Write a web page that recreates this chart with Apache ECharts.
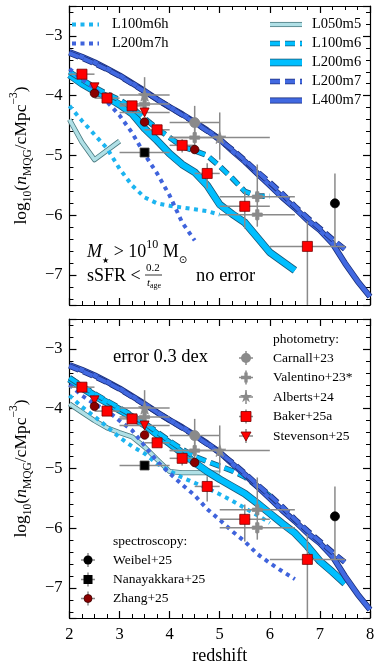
<!DOCTYPE html>
<html>
<head>
<meta charset="utf-8">
<script src="https://cdn.jsdelivr.net/npm/echarts@6/dist/echarts.min.js"></script>
<style>
html, body { margin: 0; padding: 0; background: #fff; }
#chart { width: 381px; height: 671px; }
</style>
</head>
<body>
<div id="chart"></div>
<script>
// redshift steps the simulation curves are read at
var zSteps = [2, 2.25, 2.5, 2.75, 3, 3.25, 3.5, 3.75, 4, 4.25, 4.5, 4.75, 5, 5.25, 5.5, 5.75, 6, 6.25, 6.5, 6.75, 7, 7.25, 7.5, 7.75, 8];

// top panel - no error
var L400m7 = [-3.27, -3.35, -3.44, -3.55, -3.66, -3.79, -3.92, -4.06, -4.19, -4.31, -4.44, -4.58, -4.73, -4.92, -5.1, -5.3, -5.5, -5.7, -5.88, -6.08, -6.25, -6.47, -6.8, -7.1, -7.36];
var L200m7 = [-3.29, -3.37, -3.46, -3.56, -3.67, -3.8, -3.93, -4.06, -4.19, -4.32, -4.45, -4.59, -4.74, -4.9, -5.08, -5.27, -5.45, -5.64, -5.85, -6.04, -6.22, -6.4, -6.57];
var L200m6Top = [-3.65, -3.8, -3.92, -4.02, -4.15, -4.3, -4.55, -4.75, -4.97, -5.15, -5.28, -5.5, -5.82, -5.98, -6.12, -6.37, -6.62, -6.77, -6.92];
var L100m6Top = [-3.6, -3.73, -3.86, -3.97, -4.07, -4.2, -4.38, -4.55, -4.7, -4.85, -4.92, -5.0, -5.18, -5.38, -5.6, -5.68, -5.68];
var L100m6hTop = [-4.17, -4.42, -4.65, -4.88, -5.22, -5.5, -5.7, -5.8, -5.84, -5.87, -5.9, -5.93, -5.99];
var L200m7hTop = [-3.55, -3.72, -3.88, -4.1, -4.33, -4.62, -4.98, -5.3, -5.67, -6.12, -6.42];
var L050m5TopZ = [2, 2.25, 2.5, 3];
var L050m5Top = [-4.4, -4.78, -5.07, -4.76];

// bottom panel - error 0.3 dex
var L200m6Err = [-3.5, -3.65, -3.78, -3.9, -4.02, -4.14, -4.27, -4.43, -4.58, -4.74, -4.9, -5.05, -5.18, -5.3, -5.42, -5.58, -5.75, -5.92, -6.08, -6.3, -6.55, -6.73, -6.92];
var L100m6Err = [-3.48, -3.62, -3.75, -3.87, -3.99, -4.11, -4.24, -4.39, -4.54, -4.68, -4.8, -4.88, -4.96, -5.04, -5.14, -5.3, -5.46];
var L100m6hErr = [-3.78, -3.97, -4.13, -4.3, -4.48, -4.63, -4.75, -4.92, -5.04, -5.15, -5.24, -5.33, -5.43, -5.54, -5.66, -5.78, -5.91];
var L200m7hErr = [-3.6, -3.78, -3.92, -4.03, -4.2, -4.36, -4.62, -4.88, -5.08, -5.27, -5.45, -5.68, -5.86, -6.05, -6.22, -6.43, -6.58, -6.72, -6.85];
var L050m5Err = [-3.92, -4.06, -4.2, -4.32, -4.4, -4.47, -4.64, -4.85, -5.05, -5.07, -5.07, -5.07, -5.08];

// observations: z, log n, half width in z, error up, error down
var carnallZ = [4.5], carnallN = [-4.45], carnallDz = [0.5], carnallUp = [0.28], carnallDn = [0.25];
var valentinoZ = [3.5, 4.5, 5.75, 5.75], valentinoN = [-4.14, -4.70, -5.69, -5.99];
var valentinoDz = [0.5, 0.5, 0.75, 0.75], valentinoUp = [0.06, 0.22, 0.54, 0.08], valentinoDn = [0.06, 0.25, 0.5, 0.1];
var albertsZ = [3.5, 5.0], albertsN = [-3.99, -4.70], albertsDz = [0.5, 1.0], albertsUp = [0.3, 0.42], albertsDn = [0.24, 0.37];
var bakerZ = [2.25, 2.75, 3.25, 3.75, 4.25, 4.75, 5.5, 6.75];
var bakerN = [-3.64, -4.04, -4.17, -4.57, -4.83, -5.30, -5.85, -6.52];
var bakerDz = [0.25, 0.25, 0.25, 0.25, 0.25, 0.25, 0.5, 0.75];
var bakerUp = [0.04, 0.05, 0.05, 0.07, 0.1, 0.17, 0.25, 0.42];
var bakerDn = [0.04, 0.05, 0.06, 0.08, 0.12, 0.25, 0.37, 1.2];
var stevensonZ = [2.5, 3.5], stevensonN = [-3.86, -4.28], stevensonDz = [0, 0.5], stevensonUp = [0.05, 0.06], stevensonDn = [0.05, 0.06];
var weibelZ = [7.3], weibelN = [-5.80], weibelDz = [0], weibelUp = [0.5], weibelDn = [0.73];
var nanaZ = [3.5], nanaN = [-4.95], nanaDz = [0.5], nanaUp = [0.06], nanaDn = [0.06];
var zhangZ = [2.5, 3.5, 4.5], zhangN = [-3.96, -4.44, -4.90], zhangDz = [0, 0, 0], zhangUp = [0.05, 0.06, 0.07], zhangDn = [0.05, 0.06, 0.07];

var FONT = "'Liberation Serif', 'DejaVu Serif', serif";
var GREY = '#8a8a8a';

var sty = {
    L050m5: { color: '#b0e0e6', edge: '#4a7a80', width: 3.5, z: 2 },
    L200m6: { color: '#00bfff', edge: '#1a5a7a', width: 6, z: 4 },
    L100m6: { color: '#00bfff', edge: '#1a5a7a', width: 4, dash: [10, 5], z: 6 },
    L400m7: { color: '#4169e1', edge: '#1c2f7a', width: 4.5, z: 8 },
    L200m7: { color: '#4169e1', edge: '#1c2f7a', width: 4, dash: [10, 5], z: 10 },
    L100m6h: { color: '#1cb4f0', width: 4, dash: [4, 4.5], z: 12 },
    L200m7h: { color: '#3f63dc', width: 4, dash: [4, 4.5], z: 13 }
};

var PLUS = 'path://M-1,-3L1,-3L1,-1L3,-1L3,1L1,1L1,3L-1,3L-1,1L-3,1L-3,-1L-1,-1Z';
var STAR = 'path://M0,-10L2.35,-3.24L9.51,-3.09L3.8,1.24L5.88,8.09L0,4L-5.88,8.09L-3.8,1.24L-9.51,-3.09L-2.35,-3.24Z';

function pairs(zs, vals) {
    return vals.map(function (v, i) { return [zs[i], v]; });
}

function simSeries(name, panel, zs, vals) {
    var st = sty[name], out = [];
    var dash = st.dash || 'solid';
    if (st.edge) {
        out.push({
            name: name + ' edge', type: 'line', xAxisIndex: panel * 2, yAxisIndex: panel * 2,
            data: pairs(zs, vals), symbol: 'none', silent: true, z: st.z, animation: false,
            lineStyle: { color: st.edge, width: st.width + 1.6, type: dash, cap: 'butt', join: 'round' }
        });
    }
    out.push({
        name: name, type: 'line', xAxisIndex: panel * 2, yAxisIndex: panel * 2,
        data: pairs(zs, vals), symbol: 'none', silent: true, z: st.z + 1, animation: false,
        lineStyle: { color: st.color, width: st.width, type: dash, cap: 'butt', join: 'round' }
    });
    return out;
}

function errRows(zs, ns, dz, up, dn) {
    return zs.map(function (z, i) { return [z, ns[i], dz[i], up[i], dn[i]]; });
}

var errData = [].concat(
    errRows(carnallZ, carnallN, carnallDz, carnallUp, carnallDn),
    errRows(valentinoZ, valentinoN, valentinoDz, valentinoUp, valentinoDn),
    errRows(albertsZ, albertsN, albertsDz, albertsUp, albertsDn),
    errRows(bakerZ, bakerN, bakerDz, bakerUp, bakerDn),
    errRows(stevensonZ, stevensonN, stevensonDz, stevensonUp, stevensonDn),
    errRows(weibelZ, weibelN, weibelDz, weibelUp, weibelDn),
    errRows(nanaZ, nanaN, nanaDz, nanaUp, nanaDn),
    errRows(zhangZ, zhangN, zhangDz, zhangUp, zhangDn)
);

function renderErr(params, api) {
    var z = api.value(0), n = api.value(1), dz = api.value(2), up = api.value(3), dn = api.value(4);
    var st = { stroke: GREY, lineWidth: 1.5 };
    var kids = [];
    if (dz > 0) {
        var a = api.coord([z - dz, n]), b = api.coord([z + dz, n]);
        kids.push({ type: 'line', shape: { x1: a[0], y1: a[1], x2: b[0], y2: b[1] }, style: st });
    }
    if (up > 0 || dn > 0) {
        var c = api.coord([z, n + up]), d = api.coord([z, n - dn]);
        kids.push({ type: 'line', shape: { x1: c[0], y1: c[1], x2: d[0], y2: d[1] }, style: st });
    }
    return { type: 'group', children: kids };
}

function markSeries(name, panel, zs, ns, symbol, size, color, border, extra) {
    var s = {
        name: name, type: 'scatter', xAxisIndex: panel * 2, yAxisIndex: panel * 2,
        data: pairs(zs, ns), symbol: symbol, symbolSize: size, z: 30, animation: false, silent: true,
        itemStyle: { color: color, borderColor: border, borderWidth: 0.8, opacity: 1 }
    };
    if (extra) { for (var k in extra) s[k] = extra[k]; }
    return s;
}

var series = [];
[0, 1].forEach(function (p) {
    var top = p === 0;
    series = series.concat(
        simSeries('L050m5', p, top ? L050m5TopZ : zSteps, top ? L050m5Top : L050m5Err),
        simSeries('L200m6', p, zSteps, top ? L200m6Top : L200m6Err),
        simSeries('L100m6', p, zSteps, top ? L100m6Top : L100m6Err),
        simSeries('L400m7', p, zSteps, L400m7),
        simSeries('L200m7', p, zSteps, L200m7),
        simSeries('L100m6h', p, zSteps, top ? L100m6hTop : L100m6hErr),
        simSeries('L200m7h', p, zSteps, top ? L200m7hTop : L200m7hErr)
    );
    series.push({
        name: 'errors', type: 'custom', xAxisIndex: p * 2, yAxisIndex: p * 2,
        data: errData, renderItem: renderErr, encode: { x: 0, y: 1 }, clip: true, z: 20, silent: true, animation: false
    });
    series.push(
        markSeries('Carnall+23', p, carnallZ, carnallN, 'circle', 10, GREY, GREY),
        markSeries('Valentino+23*', p, valentinoZ, valentinoN, PLUS, 10, GREY, GREY),
        markSeries('Alberts+24', p, albertsZ, albertsN, STAR, 12, GREY, GREY),
        markSeries('Baker+25a', p, bakerZ, bakerN, 'rect', 10, '#ff0000', '#7a0000'),
        markSeries('Stevenson+25', p, stevensonZ, stevensonN, 'triangle', 9, '#ff0000', '#7a0000', { symbolRotate: 180 }),
        markSeries('Weibel+25', p, weibelZ, weibelN, 'circle', 9, '#000', '#000'),
        markSeries('Nanayakkara+25', p, nanaZ, nanaN, 'rect', 9, '#000', '#444'),
        markSeries('Zhang+25', p, zhangZ, zhangN, 'circle', 8.5, '#8b0000', '#3a0000')
    );
});

function fmtY(v) {
    if (Math.abs(v - Math.round(v)) > 1e-6) return '';
    return (v < 0 ? '\u2212' : '') + Math.abs(Math.round(v));
}

var yName = '{t|log}{s|10}{t|(}{i|n}{s|MQG}{t|/cMpc}{p|\u22123}{t|)}';
var yRich = {
    t: { fontFamily: FONT, fontSize: 17.5, lineHeight: 26, color: '#000' },
    i: { fontFamily: FONT, fontSize: 17.5, fontStyle: 'italic', lineHeight: 26, color: '#000' },
    s: { fontFamily: FONT, fontSize: 11.5, lineHeight: 12, verticalAlign: 'bottom', color: '#000' },
    p: { fontFamily: FONT, fontSize: 11.5, lineHeight: 12, verticalAlign: 'top', color: '#000' }
};

function xAx(grid, pos, labels) {
    return {
        type: 'value', gridIndex: grid, position: pos, min: 2, max: 8, interval: 1,
        axisLine: { show: true, onZero: false, lineStyle: { color: '#000', width: 1.2 } },
        axisTick: { show: true, inside: true, length: 7, lineStyle: { color: '#000', width: 1.2 } },
        minorTick: { show: true, splitNumber: 4, length: 4, lineStyle: { color: '#000', width: 1 } },
        splitLine: { show: false },
        axisLabel: { show: labels, color: '#000', fontFamily: FONT, fontSize: 16.5, margin: 8 },
        name: labels ? 'redshift' : '', nameLocation: 'middle', nameGap: 29,
        nameTextStyle: { color: '#000', fontFamily: FONT, fontSize: 18 }
    };
}

function yAx(grid, pos, named) {
    return {
        type: 'value', gridIndex: grid, position: pos, min: -7.5, max: -2.5, splitNumber: 5,
        axisLine: { show: true, onZero: false, lineStyle: { color: '#000', width: 1.2 } },
        axisTick: { show: true, inside: true, length: 7, lineStyle: { color: '#000', width: 1.2 } },
        minorTick: { show: true, splitNumber: 5, length: 4, lineStyle: { color: '#000', width: 1 } },
        splitLine: { show: false },
        axisLabel: { show: named, formatter: fmtY, color: '#000', fontFamily: FONT, fontSize: 16.5, margin: 7 },
        name: named ? yName : '', nameLocation: 'middle', nameGap: 33, nameRotate: 90,
        nameTextStyle: { rich: yRich }
    };
}

// legend helpers (drawn as graphics, not data)
function legLine(x1, x2, y, name) {
    var st = sty[name], out = [];
    var dash = st.dash || null;
    if (st.edge) {
        out.push({ type: 'line', shape: { x1: x1, y1: y, x2: x2, y2: y }, z: 50,
            style: { stroke: st.edge, lineWidth: st.width + 1.6, lineDash: dash, lineCap: 'butt' } });
    }
    out.push({ type: 'line', shape: { x1: x1, y1: y, x2: x2, y2: y }, z: 51,
        style: { stroke: st.color, lineWidth: st.width, lineDash: dash, lineCap: 'butt' } });
    return out;
}

function txt(x, y, s, size, extra) {
    var o = { type: 'text', x: x, y: y, z: 60,
        style: { text: s, fill: '#000', fontFamily: FONT, fontSize: size, align: 'left', verticalAlign: 'middle' } };
    if (extra) { for (var k in extra) o.style[k] = extra[k]; }
    return o;
}

function cross(x, y) {
    return [
        { type: 'line', shape: { x1: x - 7, y1: y, x2: x + 7, y2: y }, z: 52, style: { stroke: GREY, lineWidth: 1.5 } },
        { type: 'line', shape: { x1: x, y1: y - 7, x2: x, y2: y + 7 }, z: 52, style: { stroke: GREY, lineWidth: 1.5 } }
    ];
}

function plusPts(cx, cy, s) {
    var a = s / 6;
    return [[-1, -3], [1, -3], [1, -1], [3, -1], [3, 1], [1, 1], [1, 3], [-1, 3], [-1, 1], [-3, 1], [-3, -1], [-1, -1]]
        .map(function (p) { return [cx + p[0] * a, cy + p[1] * a]; });
}

function starPts(cx, cy, r) {
    var pts = [];
    for (var i = 0; i < 10; i++) {
        var ang = -Math.PI / 2 + i * Math.PI / 5;
        var rr = i % 2 === 0 ? r : r * 0.38;
        pts.push([cx + rr * Math.cos(ang), cy + rr * Math.sin(ang)]);
    }
    return pts;
}

var graphics = [];
// top-left legend
graphics = graphics.concat(legLine(72, 99, 24.5, 'L100m6h'), legLine(72, 99, 43.5, 'L200m7h'));
graphics.push(txt(112, 24.5, 'L100m6h', 14.5), txt(112, 43.5, 'L200m7h', 14.5));
// top-right legend
var rightLeg = ['L050m5', 'L100m6', 'L200m6', 'L200m7', 'L400m7'];
rightLeg.forEach(function (n, i) {
    var y = 24.5 + i * 19;
    graphics = graphics.concat(legLine(270, 302, y, n));
    graphics.push(txt(312, y, n, 14.5));
});

// annotations top panel
graphics.push({
    type: 'text', x: 87, y: 252, z: 60,
    style: {
        text: '{i|M}{st|\u2605}{t| > 10}{sup|10}{t| M}{sun|\u2299}', align: 'left', verticalAlign: 'middle',
        rich: {
            i: { fontFamily: FONT, fontSize: 18, fontStyle: 'italic', lineHeight: 26, fill: '#000' },
            t: { fontFamily: FONT, fontSize: 18, lineHeight: 26, fill: '#000' },
            st: { fontFamily: 'DejaVu Sans', fontSize: 8, lineHeight: 11, verticalAlign: 'bottom', fill: '#000' },
            sun: { fontFamily: 'DejaVu Sans', fontSize: 10, lineHeight: 12, verticalAlign: 'bottom', fill: '#000' },
            sup: { fontFamily: FONT, fontSize: 12, lineHeight: 12, verticalAlign: 'top', fill: '#000' }
        }
    }
});
graphics.push(txt(87, 276, 'sSFR <', 18));
graphics.push(txt(146, 268, '0.2', 11));
graphics.push({ type: 'line', shape: { x1: 145, y1: 275, x2: 162, y2: 275 }, z: 60, style: { stroke: '#000', lineWidth: 0.8 } });
graphics.push({
    type: 'text', x: 147, y: 283, z: 60,
    style: {
        text: '{i|t}{s|age}', align: 'left', verticalAlign: 'middle',
        rich: {
            i: { fontFamily: FONT, fontSize: 11, fontStyle: 'italic', lineHeight: 13, fill: '#000' },
            s: { fontFamily: FONT, fontSize: 8, lineHeight: 8, verticalAlign: 'bottom', fill: '#000' }
        }
    }
});
graphics.push(txt(196, 276, 'no error', 18.5));

// bottom panel
graphics.push(txt(113, 357, 'error 0.3 dex', 18.5));
graphics.push(txt(273, 339.5, 'photometry:', 13.5));
var phX = 246, phY = [358, 377.5, 397, 416.5, 436];
var phNames = ['Carnall+23', 'Valentino+23*', 'Alberts+24', 'Baker+25a', 'Stevenson+25'];
phNames.forEach(function (n, i) {
    graphics = graphics.concat(cross(phX, phY[i]));
    graphics.push(txt(273, phY[i], n, 13.5));
});
graphics.push({ type: 'circle', shape: { cx: phX, cy: phY[0], r: 5 }, z: 53, style: { fill: GREY } });
graphics.push({ type: 'polygon', shape: { points: plusPts(phX, phY[1], 10) }, z: 53, style: { fill: GREY } });
graphics.push({ type: 'polygon', shape: { points: starPts(phX, phY[2], 6.5) }, z: 53, style: { fill: GREY } });
graphics.push({ type: 'rect', shape: { x: phX - 5, y: phY[3] - 5, width: 10, height: 10 }, z: 53, style: { fill: '#ff0000', stroke: '#7a0000', lineWidth: 0.8 } });
graphics.push({ type: 'polygon', shape: { points: [[phX - 5, phY[4] - 4], [phX + 5, phY[4] - 4], [phX, phY[4] + 5]] }, z: 53, style: { fill: '#ff0000', stroke: '#7a0000', lineWidth: 0.8 } });

graphics.push(txt(113, 541, 'spectroscopy:', 13.5));
var spX = 88, spY = [560, 579.5, 598.5];
var spNames = ['Weibel+25', 'Nanayakkara+25', 'Zhang+25'];
spNames.forEach(function (n, i) {
    graphics = graphics.concat(cross(spX, spY[i]));
    graphics.push(txt(113, spY[i], n, 13.5));
});
graphics.push({ type: 'circle', shape: { cx: spX, cy: spY[0], r: 4.5 }, z: 53, style: { fill: '#000' } });
graphics.push({ type: 'rect', shape: { x: spX - 4.5, y: spY[1] - 4.5, width: 9, height: 9 }, z: 53, style: { fill: '#000' } });
graphics.push({ type: 'circle', shape: { cx: spX, cy: spY[2], r: 4 }, z: 53, style: { fill: '#8b0000', stroke: '#3a0000', lineWidth: 0.8 } });

var chart = echarts.init(document.getElementById('chart'));
chart.setOption({
    animation: false,
    backgroundColor: '#fff',
    grid: [
        { left: 62, top: 6, width: 308, height: 299 },
        { left: 62, top: 319, width: 308, height: 299 }
    ],
    xAxis: [xAx(0, 'bottom', false), xAx(0, 'top', false), xAx(1, 'bottom', true), xAx(1, 'top', false)],
    yAxis: [yAx(0, 'left', true), yAx(0, 'right', false), yAx(1, 'left', true), yAx(1, 'right', false)],
    series: series,
    graphic: graphics
});
</script>
</body>
</html>
